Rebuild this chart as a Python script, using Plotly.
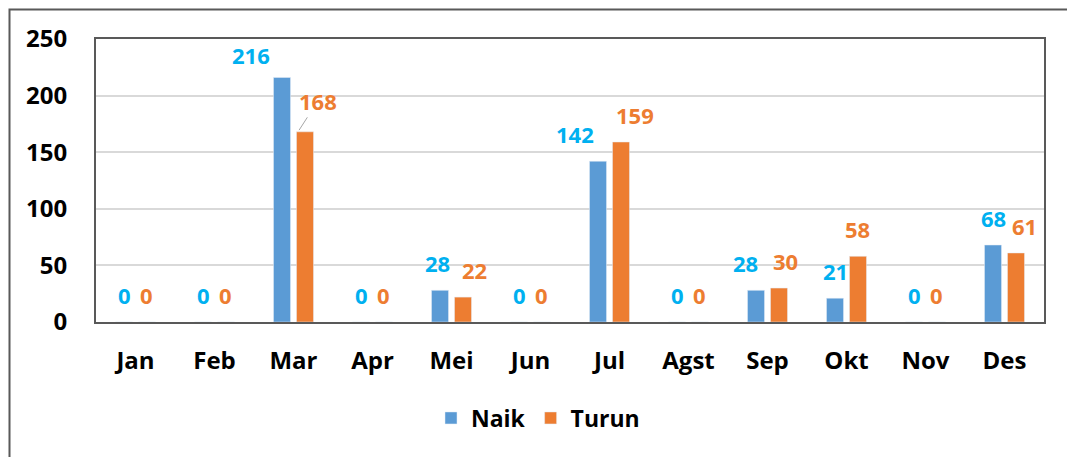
import plotly.graph_objects as go

months = ["Jan", "Feb", "Mar", "Apr", "Mei", "Jun", "Jul", "Agst", "Sep", "Okt", "Nov", "Des"]
naik = [0, 0, 216, 0, 28, 0, 142, 0, 28, 21, 0, 68]
turun = [0, 0, 168, 0, 22, 0, 159, 0, 30, 58, 0, 61]
y_ticks = [0, 50, 100, 150, 200, 250]

# label placement styling (pixel nudges, as manually placed in the original)
naik_dx = [0, 0, -31, 0, -3, 0, -23, 0, -11, 0, 0, 0]
naik_dy = [0, 0, -5, 0, 0, 0, 0, 0, 0, 0, 0, 0]
turun_dx = [0, 0, 12, 0, 12, 0, 14, 0, 7, 0, 0, 9]

PAGE_OFF = 8  # default body margin of the html page
W, H = 1075 - PAGE_OFF, 457 - PAGE_OFF
PL, PR, PT, PB = 96, 1044, 39, 322  # plot area in page pixels
ML, MT = PL - PAGE_OFF, PT - PAGE_OFF
MR, MB = W - (PR - PAGE_OFF), H - (PB - PAGE_OFF)
PW, PH = PR - PL, PB - PT

BLUE_BAR = "#5B9BD5"
ORANGE = "#ED7D31"
BLUE_TXT = "#00B0F0"
FONT = "'Open Sans', Lato, sans-serif"
AX = "#595959"

fig = go.Figure()
fig.add_trace(go.Bar(name="Naik", x=months, y=naik, marker_color=BLUE_BAR))
fig.add_trace(go.Bar(name="Turun", x=months, y=turun, marker_color=ORANGE))

slot = PW / len(months) * (1 - 0.418) / 2
off = slot / 2
lab_font = dict(family=FONT, size=22, weight="bold")
for i, m in enumerate(months):
    fig.add_annotation(x=m, y=naik[i], text=str(naik[i]), showarrow=False,
                       xshift=-off + naik_dx[i], yshift=27 + naik_dy[i],
                       font=dict(lab_font, color=BLUE_TXT))
    if m == "Mar":
        fig.add_annotation(x=m, y=turun[i], text=str(turun[i]), showarrow=True,
                           arrowhead=0, arrowwidth=1, arrowcolor="#A6A6A6",
                           xshift=off - 7, ax=20, ay=-31, standoff=2,
                           font=dict(lab_font, color=ORANGE))
    else:
        fig.add_annotation(x=m, y=turun[i], text=str(turun[i]), showarrow=False,
                           xshift=off + turun_dx[i], yshift=27,
                           font=dict(lab_font, color=ORANGE))

# outer chart border (page pixels ~9..1072 wide, starting at y~9)
fig.add_shape(type="rect", xref="paper", yref="paper",
              x0=(9.5 - PL) / PW, x1=(1071.5 - PL) / PW,
              y0=(PB - 470) / PH, y1=(PB - 9.5) / PH,
              line=dict(color=AX, width=2), layer="below")

fig.update_layout(
    width=W, height=H,
    margin=dict(l=ML, r=MR, t=MT, b=MB, autoexpand=False),
    paper_bgcolor="white", plot_bgcolor="white",
    barmode="group", bargap=0.418, bargroupgap=0.26,
    font=dict(family=FONT, size=23, color="black", weight="bold"),
    legend=dict(orientation="h", x=(538 - PL) / PW, xanchor="center",
                y=(PB - 418) / PH, yanchor="middle",
                font=dict(family=FONT, size=23, weight="bold"),
                itemwidth=30),
    showlegend=True,
)
fig.update_xaxes(showline=True, mirror=True, linecolor=AX, linewidth=2,
                 ticks="", ticklabelstandoff=16,
                 tickfont=dict(family=FONT, size=24, weight="bold"))
fig.update_yaxes(range=[0, 250], tickvals=y_ticks, showline=True, mirror=True,
                 linecolor=AX, linewidth=2, gridcolor="#D9D9D9", gridwidth=2,
                 zeroline=False, ticks="", ticklabelstandoff=22,
                 tickfont=dict(family=FONT, size=24, weight="bold"))

fig.write_html("out.html")
